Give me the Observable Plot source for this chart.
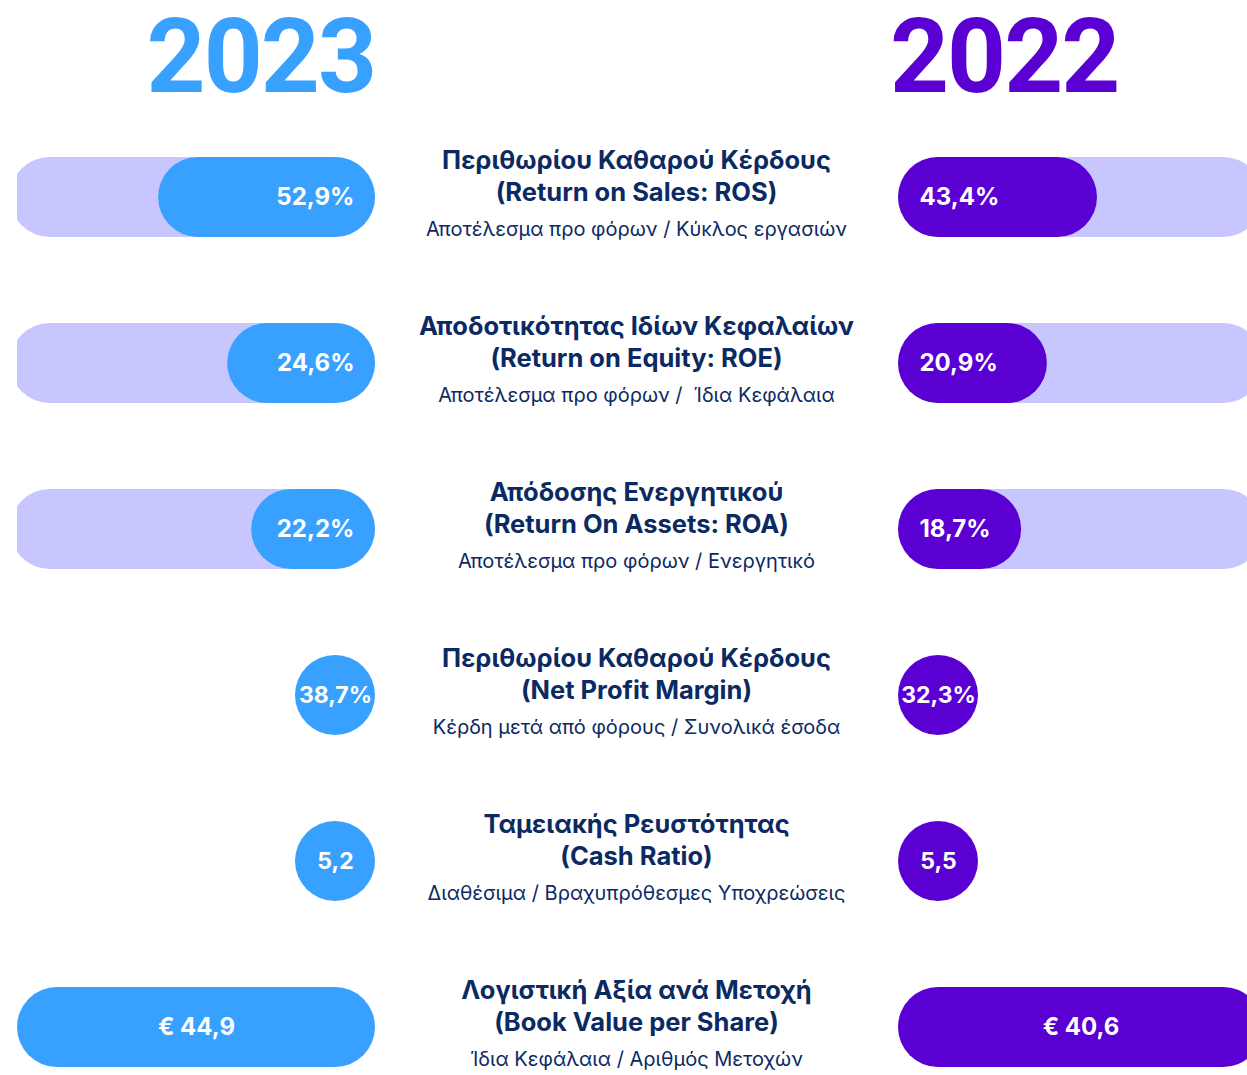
<!DOCTYPE html>
<html>
<head>
<meta charset="utf-8">
<script src="https://cdn.jsdelivr.net/npm/d3@7"></script>
<script src="https://cdn.jsdelivr.net/npm/@observablehq/plot@0.6"></script>
<style>
  html, body { margin: 0; padding: 0; background: #fff; overflow: hidden; }
  body { width: 1247px; height: 1075px; position: relative; font-family: Inter, "Noto Sans", sans-serif; }
  .year { position: absolute; top: -4px; font-family: Roboto, Inter, sans-serif; font-size: 103px; font-weight: 700; line-height: normal; letter-spacing: -2px; white-space: nowrap; }
  #y2023 { right: 872px; color: #38A1FF; }
  #y2022 { left: 890px; color: #5A00D2; }
  #row { position: absolute; top: 115px; left: 0; display: flex; }
  #row svg { background: transparent; overflow: hidden; }
</style>
</head>
<body>
<div class="year" id="y2023"></div>
<div class="year" id="y2022"></div>
<div id="row"><div id="left"></div><div id="mid"></div><div id="right"></div></div>
<script>
// ---- data ----
const years = ["2023", "2022"];
const keys = ["ROS", "ROE", "ROA", "NPM", "CASH", "BVPS"];
const titles1 = ["Περιθωρίου Καθαρού Κέρδους", "Αποδοτικότητας Ιδίων Κεφαλαίων", "Απόδοσης Ενεργητικού",
                 "Περιθωρίου Καθαρού Κέρδους", "Ταμειακής Ρευστότητας", "Λογιστική Αξία ανά Μετοχή"];
const titles2 = ["(Return on Sales: ROS)", "(Return on Equity: ROE)", "(Return On Assets: ROA)",
                 "(Net Profit Margin)", "(Cash Ratio)", "(Book Value per Share)"];
const formulas = ["Αποτέλεσμα προ φόρων / Κύκλος εργασιών", "Αποτέλεσμα προ φόρων /  Ίδια Κεφάλαια",
                  "Αποτέλεσμα προ φόρων / Ενεργητικό", "Κέρδη μετά από φόρους / Συνολικά έσοδα",
                  "Διαθέσιμα / Βραχυπρόθεσμες Υποχρεώσεις", "Ίδια Κεφάλαια / Αριθμός Μετοχών"];
const values2023 = [52.9, 24.6, 22.2, 38.7, 5.2, 44.9];
const values2022 = [43.4, 20.9, 18.7, 32.3, 5.5, 40.6];
const units = ["%", "%", "%", "%", "", "€"];
// visual fill of each pill, in percent of the track
const fill2023 = [60.6, 41.3, 34.6, 22.35, 22.35, 100];
const fill2022 = [55.6, 41.6, 34.4, 22.35, 22.35, 102];
const kinds = ["track", "track", "track", "dot", "dot", "full"];
const TRACK = 102;

// ---- build table ----
const fmt = (v, u) => {
  const s = v.toFixed(1).replace(".", ",");
  return u === "€" ? "€ " + s : s + u;
};
const data = keys.map((k, i) => ({
  key: k, title: titles1[i] + "\n" + titles2[i], formula: formulas[i], kind: kinds[i],
  l23: fmt(values2023[i], units[i]), l22: fmt(values2022[i], units[i]),
  len23: fill2023[i], len22: fill2022[i]
}));

const BLUE = "#38A1FF", PURPLE = "#5A00D2", LAV = "#C8C6FF", NAVY = "#0C2A62";
document.getElementById("y2023").textContent = years[0];
document.getElementById("y2022").textContent = years[1];

const yScale = () => ({type: "band", domain: keys, range: [-2, 995], paddingInner: 0.519, paddingOuter: 0.2595, axis: null});
const H = 960;
const labelStyle = {fill: "white", fontSize: 24, fontWeight: 700, fontFamily: "Inter"};
const tracks = data.filter(d => d.kind === "track");
const others = data.filter(d => d.kind !== "track");

function column(lenKey, labKey, color, opts) {
  return Plot.plot({
    width: opts.width, height: H,
    marginTop: 0, marginBottom: 0, marginLeft: opts.ml, marginRight: opts.mr,
    style: {fontFamily: "Inter", background: "transparent"},
    x: {domain: opts.domain, reverse: opts.reverse, axis: null},
    y: yScale(),
    marks: [
      Plot.barX(tracks, {x1: 0, x2: TRACK, y: "key", fill: LAV, rx: 40, clip: true}),
      Plot.barX(data, {x1: 0, x2: lenKey, y: "key", fill: color, rx: 40, clip: true}),
      Plot.text(tracks, {x: 0, y: "key", text: labKey, textAnchor: opts.reverse ? "end" : "start",
                         dx: opts.reverse ? -21 : 21, ...labelStyle}),
      Plot.text(others, {x: d => d[lenKey] / 2, y: "key", text: labKey, textAnchor: "middle",
                         ...labelStyle, fontSize: d => d.kind === "dot" ? 23 : 24})
    ]
  });
}

document.getElementById("left").append(
  column("len23", "l23", BLUE, {width: 400, ml: 17, mr: 25, domain: [0, 100], reverse: true}));

document.getElementById("mid").append(Plot.plot({
  width: 480, height: H, marginTop: 0, marginBottom: 0, marginLeft: 0, marginRight: 8,
  style: {fontFamily: "Inter", background: "transparent"},
  y: yScale(),
  marks: [
    Plot.text(data, {y: "key", text: "title", frameAnchor: "middle", dy: -23, lineHeight: 1.26,
                     fontSize: 25.5, fontWeight: 700, fill: NAVY, fontFamily: "Inter"}),
    Plot.text(data, {y: "key", text: "formula", frameAnchor: "middle", dy: 32,
                     fontSize: 20, fontWeight: 400, fill: NAVY, fontFamily: "Inter"})
  ]
}));

document.getElementById("right").append(
  column("len22", "l22", PURPLE, {width: 367, ml: 18, mr: 0, domain: [0, 97.5], reverse: false}));
</script>
</body>
</html>
